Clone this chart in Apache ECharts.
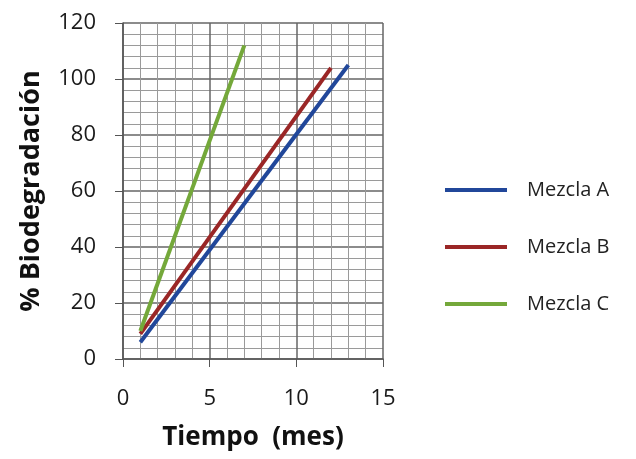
<!DOCTYPE html>
<html><head><meta charset="utf-8">
<script src="https://cdn.jsdelivr.net/npm/echarts@6/dist/echarts.min.js"></script>
<style>html,body{margin:0;padding:0;background:#fff}#c{width:636px;height:459px}</style>
</head><body><div id="c"></div>
<script>
const seriesNames = ["Mezcla A", "Mezcla B", "Mezcla C"];
const mezclaA = [[1, 6], [13, 105]];
const mezclaB = [[1, 9], [12, 104]];
const mezclaC = [[1, 10], [7, 112]];
const colors = ["#21479a", "#9a2626", "#74a83a"];
const font = "'Open Sans', 'Noto Sans', sans-serif";
const chart = echarts.init(document.getElementById('c'));
const mk = (name, data, color) => ({
  name, type: 'line', data, symbol: 'none', color,
  lineStyle: { width: 4, color }
});
chart.setOption({
  animation: false,
  grid: { left: 123, right: 253, top: 23, bottom: 100 },
  legend: {
    orient: 'vertical', left: 440, top: 175, itemGap: 37,
    itemWidth: 62, itemHeight: 4,
    icon: 'rect',
    textStyle: { fontFamily: font, fontSize: 20, lineHeight: 20, color: '#222', padding: [0, 0, 0, 15] },
    data: seriesNames
  },
  xAxis: {
    type: 'value', min: 0, max: 15, interval: 5,
    name: 'Tiempo  (mes)', nameLocation: 'middle', nameGap: 66,
    nameTextStyle: { fontFamily: font, fontSize: 26, fontWeight: 'bold', color: '#111' },
    axisLine: { show: true, onZero: false, lineStyle: { color: '#555', width: 1.5 } },
    axisTick: { show: true, length: 8, lineStyle: { color: '#555' } },
    axisLabel: { fontFamily: font, fontSize: 22, color: '#1a1a1a', margin: 29 },
    splitLine: { show: true, lineStyle: { color: '#666', width: 1.5 } },
    minorTick: { show: false, splitNumber: 5 },
    minorSplitLine: { show: true, lineStyle: { color: '#9a9a9a', width: 1 } }
  },
  yAxis: {
    type: 'value', min: 0, max: 120, interval: 20,
    name: '% Biodegradación', nameLocation: 'middle', nameGap: 78, nameRotate: 90,
    nameTextStyle: { fontFamily: font, fontSize: 27, fontWeight: 'bold', color: '#111' },
    axisLine: { show: true, lineStyle: { color: '#555', width: 1.5 } },
    axisTick: { show: true, length: 8, lineStyle: { color: '#555' } },
    axisLabel: { fontFamily: font, fontSize: 22, color: '#1a1a1a', margin: 27 },
    splitLine: { show: true, lineStyle: { color: '#666', width: 1.5 } },
    minorTick: { show: false, splitNumber: 5 },
    minorSplitLine: { show: true, lineStyle: { color: '#9a9a9a', width: 1 } }
  },
  series: [mk(seriesNames[0], mezclaA, colors[0]), mk(seriesNames[1], mezclaB, colors[1]), mk(seriesNames[2], mezclaC, colors[2])]
});
</script></body></html>
